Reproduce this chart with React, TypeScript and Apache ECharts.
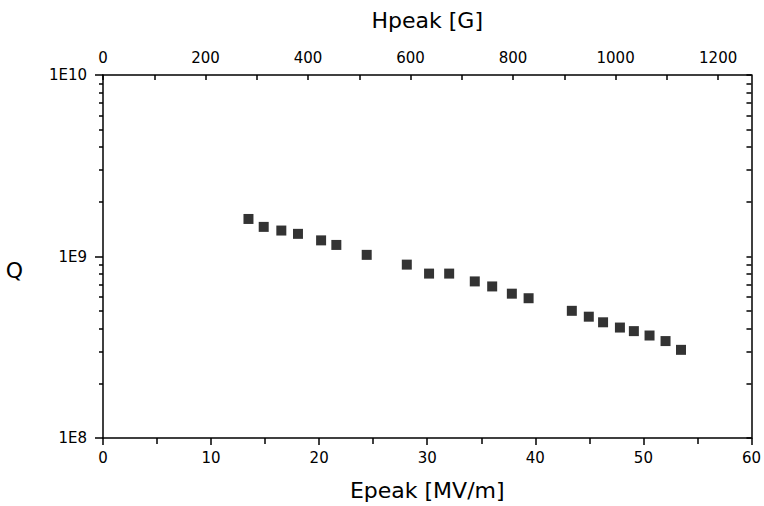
import React, { useEffect, useRef } from "react";
import * as echarts from "echarts";

// Bottom axis: Epeak [MV/m]; left axis: Q (log)
const epeak = [13.46, 14.87, 16.5, 18.04, 20.18, 21.59, 24.4, 28.11, 30.17, 32.03, 34.4, 36.01, 37.83, 39.38, 43.38, 44.95, 46.27, 47.83, 49.12, 50.57, 52.05, 53.48];
const qValues = [1.61e9, 1.456e9, 1.39e9, 1.333e9, 1.227e9, 1.158e9, 1.021e9, 9.02e8, 8.05e8, 8.05e8, 7.29e8, 6.84e8, 6.24e8, 5.89e8, 5.02e8, 4.66e8, 4.34e8, 4.06e8, 3.88e8, 3.67e8, 3.42e8, 3.06e8];

const xTitle = "Epeak [MV/m]";
const topTitle = "Hpeak [G]";
const yTitle = "Q";
const decades = [8, 9, 10];
const minorMultipliers = [2, 3, 4, 5, 6, 7, 8, 9];
const hpeakMax = 1265;

const FONT = "DejaVu Sans, Liberation Sans, Arial, sans-serif";
const BLACK = "#000";

export default function App() {
  const ref = useRef<HTMLDivElement>(null);
  useEffect(() => {
    if (!ref.current) return;
    const chart = echarts.init(ref.current, undefined, { renderer: "svg" });
    const minorLog: number[] = [];
    decades.slice(0, -1).forEach((d) => {
      minorMultipliers.forEach((m) => minorLog.push(d + Math.log10(m)));
    });
    const allLog = decades.concat(minorLog);
    const line = { color: BLACK, width: 1.5 };
    const label = { color: BLACK, fontSize: 15, fontFamily: FONT };
    const nameStyle = { color: BLACK, fontSize: 22, fontFamily: FONT };
    chart.setOption({
      animation: false,
      backgroundColor: "#fff",
      grid: { left: 103, right: 10, top: 75, bottom: 63, containLabel: false },
      xAxis: [
        {
          type: "value",
          position: "bottom",
          min: 0,
          max: 60,
          interval: 10,
          axisLine: { show: true, onZero: false, lineStyle: line },
          axisTick: { show: true, inside: false, length: 7, lineStyle: line },
          minorTick: { show: true, splitNumber: 2, length: 6, lineStyle: line },
          axisLabel: { ...label, margin: 12 },
          splitLine: { show: false },
          name: xTitle,
          nameLocation: "middle",
          nameGap: 41,
          nameTextStyle: nameStyle,
        },
        {
          type: "value",
          position: "top",
          min: 0,
          max: hpeakMax,
          interval: 100,
          axisLine: { show: true, onZero: false, lineStyle: line },
          axisTick: { show: true, inside: true, length: 5, lineStyle: line },
          axisLabel: {
            ...label,
            margin: 10,
            showMaxLabel: false,
            formatter: (v: number) => (Math.round(v) % 200 === 0 ? String(Math.round(v)) : ""),
          },
          splitLine: { show: false },
          name: topTitle,
          nameLocation: "middle",
          nameGap: 44,
          nameTextStyle: nameStyle,
        },
      ],
      yAxis: [
        {
          type: "log",
          logBase: 10,
          min: 1e8,
          max: 1e10,
          position: "left",
          axisLine: { show: true, onZero: false, lineStyle: line },
          axisTick: { show: true, inside: false, length: 8, lineStyle: line },
          axisLabel: {
            ...label,
            margin: 16,
            formatter: (v: number) => "1E" + Math.round(Math.log10(v)),
          },
          splitLine: { show: false },
          name: yTitle,
          nameLocation: "middle",
          nameRotate: 0,
          nameGap: 80,
          nameTextStyle: { ...nameStyle, verticalAlign: "top", padding: [3, 0, 0, 0] },
        },
        {
          type: "value",
          min: 8,
          max: 10,
          position: "left",
          axisLine: { show: false, onZero: false },
          axisTick: { show: true, inside: false, length: 4, customValues: minorLog, lineStyle: line },
          axisLabel: { show: false },
          splitLine: { show: false },
        },
        {
          type: "value",
          min: 8,
          max: 10,
          position: "right",
          axisLine: { show: true, onZero: false, lineStyle: line },
          axisTick: { show: true, inside: true, length: 5, customValues: allLog, lineStyle: line },
          axisLabel: { show: false },
          splitLine: { show: false },
        },
      ],
      series: [
        {
          type: "scatter",
          xAxisIndex: 0,
          yAxisIndex: 0,
          symbol: "rect",
          symbolSize: 10,
          itemStyle: { color: BLACK },
          data: epeak.map((e, i) => [e, qValues[i]]),
        },
      ],
    });
    return () => chart.dispose();
  }, []);
  return (
    <div
      ref={ref}
      style={{ position: "fixed", left: 0, top: 0, width: 764, height: 506, background: "#fff" }}
    />
  );
}
